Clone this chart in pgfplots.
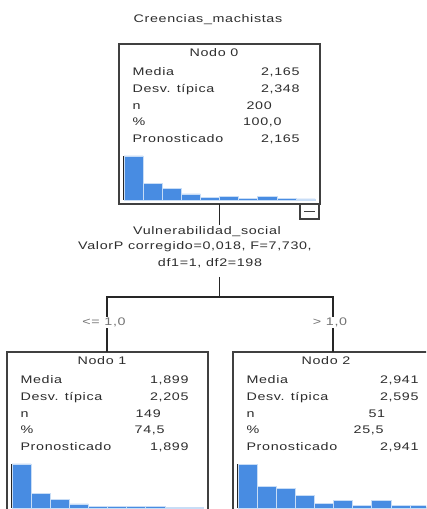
\documentclass[border=0pt]{standalone}
\usepackage{fontspec}
\setmainfont{Liberation Sans}[FakeStretch=1.3,LetterSpace=6]
\usepackage{pgfplots}
\pgfplotsset{compat=1.18}
\definecolor{barblue}{RGB}{72,140,226}
\definecolor{txt}{RGB}{45,45,45}
\pgfplotsset{nodehist/.style={width=191pt,height=44pt,scale only axis,anchor=south west,
  xmin=0.5,xmax=10.5,ymin=0,ymax=44,
  axis x line*=bottom,axis y line*=left,axis line style={-,line width=1.2pt,black!85},
  xtick=\empty,ytick=\empty,ybar,bar width=1,bar shift=0pt,clip=false}}
\begin{document}
\begin{tikzpicture}[x=1pt,y=1pt,font=\fontsize{11}{13}\selectfont,text=txt]
\clip (0,0) rectangle (426,509);
\fill[white] (0,0) rectangle (426,509);
% title
\node[anchor=base] at (208,486) {Creencias\_machistas};
% boxes
\draw[line width=1.5pt,black!75] (119,465) rectangle (320,305);
\draw[line width=1.5pt,black!75] (7,157) rectangle (208,-20);
\draw[line width=1.5pt,black!75] (233,157) rectangle (450,-20);
% node 0 text
\node[anchor=base] at (214,452) {Nodo 0};
\node[anchor=base west] at (129,433) {Media};
\node[anchor=base west] at (129,416) {Desv. típica};
\node[anchor=base west] at (129,399) {n};
\node[anchor=base west] at (129,383) {\%};
\node[anchor=base west] at (129,366) {Pronosticado};
\node[anchor=base east] at (303,433) {2,165};
\node[anchor=base east] at (303,416) {2,348};
\node[anchor=base west] at (243,399) {200};
\node[anchor=base east] at (285,383) {100,0};
\node[anchor=base east] at (303,366) {2,165};
% node 1 text
\node[anchor=base] at (102,144) {Nodo 1};
\node[anchor=base west] at (17,125) {Media};
\node[anchor=base west] at (17,108) {Desv. típica};
\node[anchor=base west] at (17,91) {n};
\node[anchor=base west] at (17,75) {\%};
\node[anchor=base west] at (17,58) {Pronosticado};
\node[anchor=base east] at (192,125) {1,899};
\node[anchor=base east] at (192,108) {2,205};
\node[anchor=base west] at (132,91) {149};
\node[anchor=base east] at (168,75) {74,5};
\node[anchor=base east] at (192,58) {1,899};
% node 2 text
\node[anchor=base] at (326,144) {Nodo 2};
\node[anchor=base west] at (243,125) {Media};
\node[anchor=base west] at (243,108) {Desv. típica};
\node[anchor=base west] at (243,91) {n};
\node[anchor=base west] at (243,75) {\%};
\node[anchor=base west] at (243,58) {Pronosticado};
\node[anchor=base east] at (422,125) {2,941};
\node[anchor=base east] at (422,108) {2,595};
\node[anchor=base west] at (365,91) {51};
\node[anchor=base east] at (387,75) {25,5};
\node[anchor=base east] at (422,58) {2,941};
% histograms
\begin{axis}[nodehist,at={(124pt,309pt)}]
\addplot[fill=barblue,draw=white!70!barblue,line width=0.6pt] coordinates {(1,44) (2,16.7) (3,11.3) (4,6) (5,2.7) (6,3.3) (7,1.7) (8,3.3) (9,1.7) (10,1)};
\end{axis}
\begin{axis}[nodehist,at={(12pt,1pt)}]
\addplot[fill=barblue,draw=white!70!barblue,line width=0.6pt] coordinates {(1,44) (2,14.3) (3,8.3) (4,4) (5,1.7) (6,1.7) (7,1.7) (8,1.7) (9,1) (10,0.5)};
\end{axis}
\begin{axis}[nodehist,at={(238pt,1pt)}]
\addplot[fill=barblue,draw=white!70!barblue,line width=0.6pt] coordinates {(1,43.3) (2,21.3) (3,19.7) (4,12.3) (5,4.3) (6,7.3) (7,2.7) (8,7.3) (9,2.3) (10,2.3)};
\end{axis}
% collapse box
\draw[line width=1.2pt,black!75,fill=white] (300,305) rectangle (319,290);
\draw[line width=0.8pt,black!75] (304,297.5) -- (315,297.5);
% connectors
\draw[line width=1.2pt,black!85] (219.5,305) -- (219.5,284);
\draw[line width=1.2pt,black!85] (219.5,232) -- (219.5,212);
\draw[line width=1.2pt,black!85] (107,157) -- (107,212) -- (333,212) -- (333,157);
% split text
\node[anchor=base] at (207,274) {Vulnerabilidad\_social};
\node[anchor=base] at (195,259) {ValorP corregido=0,018, F=7,730,};
\node[anchor=base] at (210,242) {df1=1, df2=198};
% branch labels
\node[anchor=base,fill=white,inner sep=1pt,text=black!55] at (104,183) {<= 1,0};
\node[anchor=base,fill=white,inner sep=1pt,text=black!55] at (330,183) {> 1,0};
\end{tikzpicture}
\end{document}
